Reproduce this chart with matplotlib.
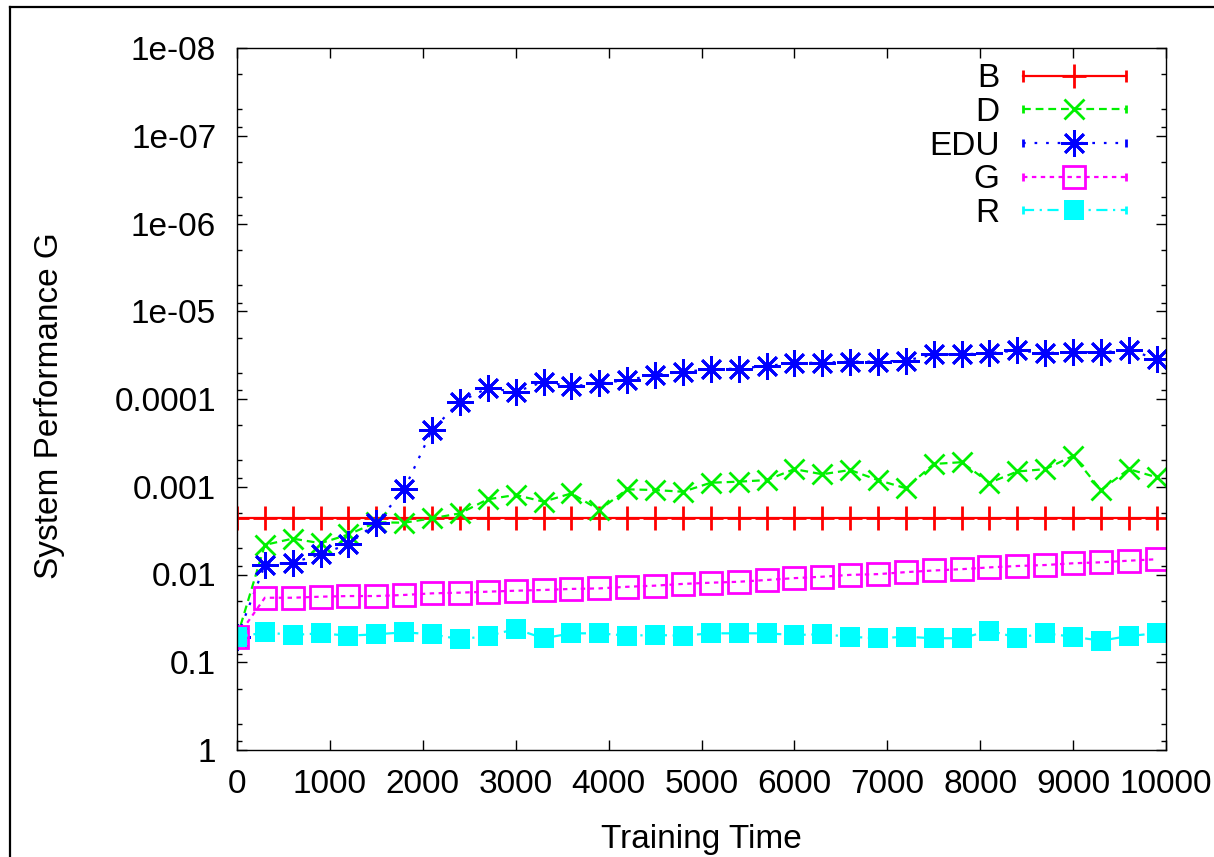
import matplotlib
matplotlib.use("Agg")
import matplotlib.pyplot as plt
from matplotlib.lines import Line2D
from matplotlib.legend_handler import HandlerLine2D
from matplotlib.ticker import LogLocator, NullFormatter, NullLocator

plt.rcParams['font.family'] = ['Liberation Sans', 'DejaVu Sans']

# ---------------- data ----------------
time_steps = [0, 300, 600, 900, 1200, 1500, 1800, 2100, 2400, 2700, 3000, 3300,
              3600, 3900, 4200, 4500, 4800, 5100, 5400, 5700, 6000, 6300, 6600,
              6900, 7200, 7500, 7800, 8100, 8400, 8700, 9000, 9300, 9600, 9900]

perf_B = [0.00227] * len(time_steps)

perf_D = [0.052, 0.0046, 0.0039, 0.0044, 0.0035, 0.00254, 0.00257, 0.00229,
          0.00201, 0.00139, 0.00124, 0.00148, 0.00119, 0.00184, 0.00107, 0.00109,
          0.00114, 0.0009, 0.000875, 0.00084, 0.00063, 0.00072, 0.000645, 0.00084,
          0.00104, 0.00055, 0.000525, 0.0009, 0.00067, 0.00063, 0.000445, 0.00109,
          0.00063, 0.00078]

perf_EDU = [0.052, 0.0078, 0.0073, 0.0059, 0.0045, 0.0026, 0.00107, 2.25e-4,
            1.07e-4, 7.5e-5, 8.3e-5, 6.35e-5, 7.2e-5, 6.6e-5, 6.1e-5, 5.3e-5,
            4.9e-5, 4.6e-5, 4.5e-5, 4.2e-5, 3.9e-5, 3.85e-5, 3.75e-5, 3.75e-5,
            3.65e-5, 3.1e-5, 3.1e-5, 3.0e-5, 2.8e-5, 3.0e-5, 2.9e-5, 2.95e-5,
            2.75e-5, 3.5e-5]

perf_G = [0.052, 0.0184, 0.0184, 0.0179, 0.0176, 0.0176, 0.0171, 0.0164, 0.0161,
          0.0157, 0.0153, 0.0150, 0.0146, 0.0144, 0.0138, 0.0134, 0.0128, 0.0124,
          0.0121, 0.01155, 0.0110, 0.0106, 0.0101, 0.0099, 0.0094, 0.0090, 0.0087,
          0.0083, 0.0080, 0.0078, 0.00745, 0.00726, 0.00696, 0.0067]

perf_R = [0.052, 0.0456, 0.0489, 0.0468, 0.0498, 0.048, 0.0456, 0.048, 0.0547,
          0.0502, 0.0418, 0.0533, 0.0468, 0.0468, 0.0498, 0.0489, 0.0498, 0.0468,
          0.0468, 0.0468, 0.0489, 0.048, 0.0512, 0.0533, 0.0512, 0.0533, 0.0533,
          0.0437, 0.0525, 0.0468, 0.0512, 0.0568, 0.0502, 0.0468]

x_ticks = [0, 1000, 2000, 3000, 4000, 5000, 6000, 7000, 8000, 9000, 10000]
y_ticks = [1, 0.1, 0.01, 0.001, 0.0001, 1e-5, 1e-6, 1e-7, 1e-8]
y_tick_labels = ['1', '0.1', '0.01', '0.001', '0.0001', '1e-05', '1e-06', '1e-07', '1e-08']

# ---------------- figure ----------------
W, H = 1214, 857
fig = plt.figure(figsize=(W / 100, H / 100), dpi=100)
ax = fig.add_axes([237 / W, (H - 750) / H, 929 / W, 702 / H])

FS = 24
lw = 1.6
mew = 2.0

ax.plot(time_steps, perf_B, color='#ff0000', lw=lw, linestyle='-',
        marker='+', markersize=17, markeredgewidth=mew, label='B')
ax.plot(time_steps, perf_D, color='#00f000', lw=lw, linestyle=(0, (3.5, 2.2)),
        marker='x', markersize=15, markeredgewidth=mew, label='D')
ax.plot(time_steps, perf_EDU, color='#0000ff', lw=lw, linestyle=(0, (1.2, 4)),
        marker=(8, 2, 0), markersize=19, markeredgewidth=mew, label='EDU')
ax.plot(time_steps, perf_G, color='#ff00ff', lw=lw, linestyle=(0, (2, 2)),
        marker='s', markersize=16, markeredgewidth=mew, markerfacecolor='none',
        label='G')
ax.plot(time_steps, perf_R, color='#00ffff', lw=lw, linestyle=(0, (5, 2.5, 1, 2.5)),
        marker='s', markersize=15, markeredgewidth=0, label='R')

ax.set_yscale('log')
ax.set_ylim(1, 1e-8)
ax.set_xlim(0, 10000)
ax.set_yticks(y_ticks, y_tick_labels)
ax.yaxis.set_minor_locator(LogLocator(base=10, subs=(2.0, 5.0, 8.0), numticks=50))
ax.yaxis.set_minor_formatter(NullFormatter())
ax.set_xticks(x_ticks)
ax.xaxis.set_minor_locator(NullLocator())

ax.tick_params(axis='both', which='major', direction='in', length=7, width=1,
               labelsize=FS, top=True, right=True)
ax.tick_params(axis='y', which='minor', direction='in', length=3.6, width=1,
               right=True)
ax.tick_params(axis='y', which='major', pad=15)
ax.tick_params(axis='x', which='major', pad=14)
for sp in ax.spines.values():
    sp.set_linewidth(1)

ax.set_xlabel('Training Time', fontsize=FS)
ax.set_ylabel('System Performance G', fontsize=FS)
ax.xaxis.set_label_coords(0.5, -0.105)
ax.yaxis.set_label_coords(-0.185, 0.49)


class CapHandler(HandlerLine2D):
    def create_artists(self, legend, orig_handle, xdescent, ydescent, width,
                       height, fontsize, trans):
        arts = super().create_artists(legend, orig_handle, xdescent, ydescent,
                                      width, height, fontsize, trans)
        yc = height / 2 - ydescent
        cap = Line2D([-xdescent, -xdescent + width], [yc, yc], linestyle='none',
                     marker='|', markersize=8 if orig_handle.get_label() == 'B' else 6,
                     markeredgewidth=mew, color=orig_handle.get_color())
        cap.set_transform(trans)
        return arts + [cap]


leg = ax.legend(loc='upper right', bbox_to_anchor=(0.957, 0.978), frameon=False,
                fontsize=FS, markerfirst=False, numpoints=1, handlelength=3.1,
                handletextpad=0.7, labelspacing=0.08, borderpad=0,
                borderaxespad=0, handler_map={Line2D: CapHandler()})

# outer frame (left and top edges visible in the reference)
fig.add_artist(Line2D([10 / W, 10 / W], [0, 1 - 7 / H], color='black', lw=1.6,
                      transform=fig.transFigure))
fig.add_artist(Line2D([10 / W, 1], [1 - 7 / H, 1 - 7 / H], color='black', lw=1.6,
                      transform=fig.transFigure))

fig.savefig('out.png', dpi=100)
